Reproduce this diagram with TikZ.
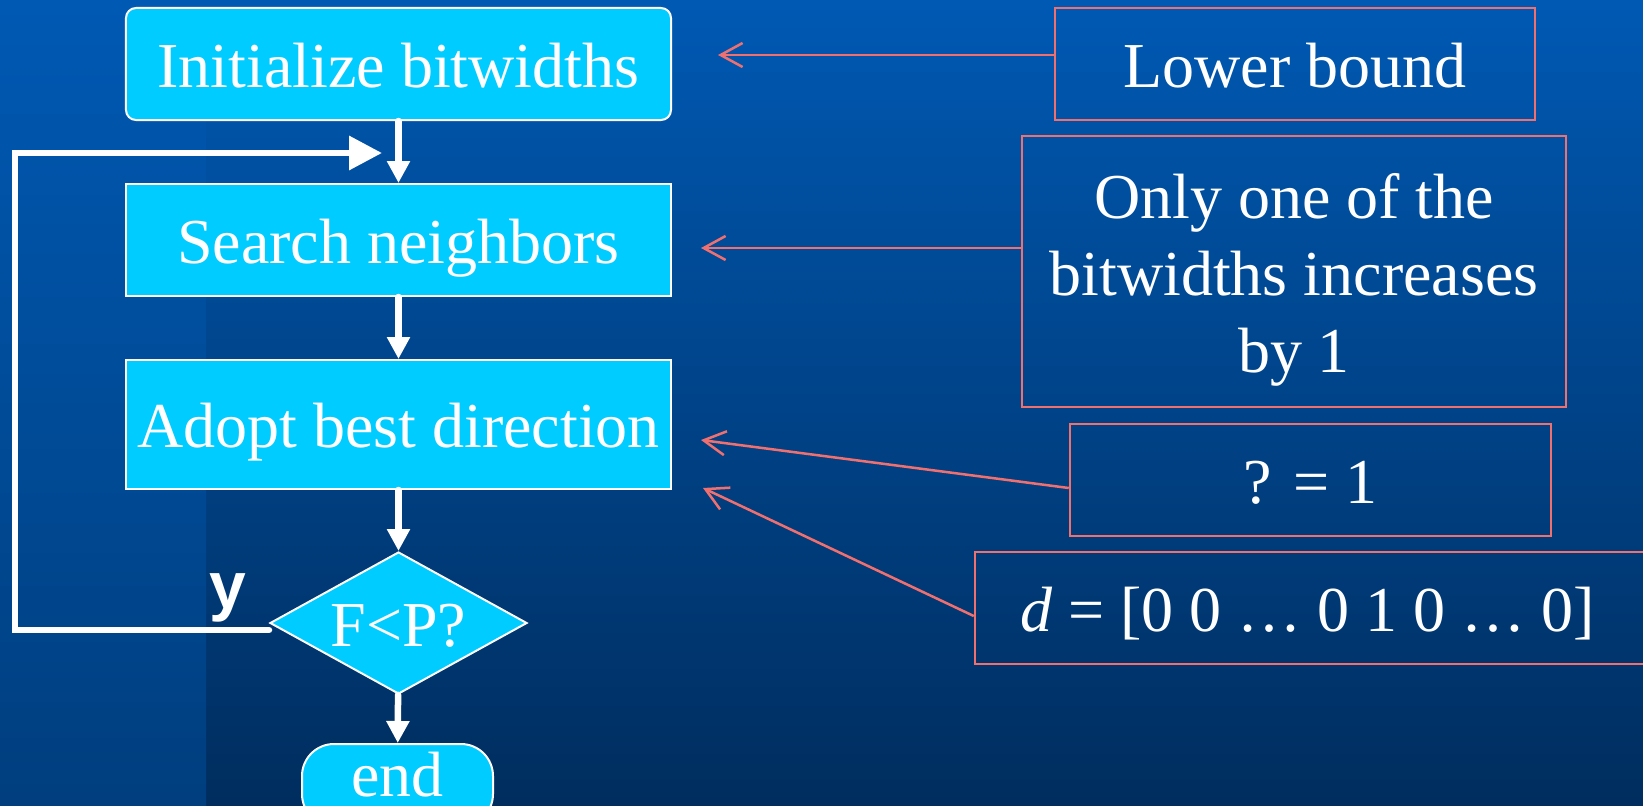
\documentclass[tikz,border=0pt]{standalone}
\usepackage{fontspec}
\setmainfont{Liberation Serif}
\newfontfamily\labelsans{Liberation Sans}
\usetikzlibrary{arrows.meta,shapes.geometric}
\definecolor{bgtop}{HTML}{0059B3}
\definecolor{bgbot}{HTML}{002D5E}
\definecolor{stripbot}{HTML}{003E7E}
\definecolor{boxcyan}{HTML}{00CCFF}
\definecolor{notered}{HTML}{F07070}
\begin{document}
\begin{tikzpicture}[x=1bp,y=-1bp,
  every node/.style={font=\fontsize{64bp}{77bp}\selectfont, text=white, inner sep=0pt},
  stepbox/.style={draw=white, line width=2bp, fill=boxcyan, text height=46bp, text depth=0pt},
  notebox/.style={draw=notered, line width=2.5bp, text height=46bp, text depth=0pt},
  flowarrow/.style={draw=white, line width=6.5bp, line cap=round, -{Triangle[length=22bp,width=22bp]}},
  looparrow/.style={draw=white, line width=6.5bp, line cap=round, -{Triangle[length=33bp,width=33bp]}},
  notearrow/.style={draw=notered, line width=2.5bp, -{Straight Barb[length=22bp,width=24bp]}}]
\useasboundingbox (0,0) rectangle (1643,806);
\clip (0,0) rectangle (1643,806);

% background: vertical gradient with a slightly lighter left band
\shade[top color=bgtop, bottom color=bgbot] (0,0) rectangle (1643,806);
\shade[top color=bgtop, bottom color=stripbot] (0,0) rectangle (206,806);

% flow chart
\node[stepbox, rounded corners=10bp, minimum width=545bp, minimum height=112bp] (init) at (398.5,64) {Initialize bitwidths};
\node[stepbox, minimum width=545bp, minimum height=112bp] (search) at (398.5,240) {Search neighbors};
\node[stepbox, minimum width=545bp, minimum height=129bp] (adopt) at (398.5,424.5) {Adopt best direction};
\node[stepbox, diamond, aspect=1.81, minimum width=257bp, minimum height=142bp] (dia) at (398.5,623) {F<P?};
\node[stepbox, rounded corners=32bp, minimum width=191bp, minimum height=82bp, text height=22bp] (endn) at (397.5,785) {end};
\node[font=\labelsans\bfseries\fontsize{66bp}{66bp}\selectfont, anchor=base] (ylab) at (228,608) {y};

\draw[flowarrow] (init) -- (search);
\draw[flowarrow] (search) -- (adopt);
\draw[flowarrow] (adopt) -- (dia);
\draw[flowarrow] (dia) -- (endn);

\coordinate (loopleft) at (15,153);
\coordinate (loopend) at (382,153);
\draw[looparrow] ([yshift=-7bp]dia.west) -| (loopleft) -- (loopend);

% annotations
\node[notebox, minimum width=480bp, minimum height=112bp] (lowb) at (1295,64) {Lower bound};
\node[draw=notered, line width=2.5bp, minimum width=544bp, minimum height=271bp] (onlyb) at (1294,271.5) {};
\node[align=center] (onlyt) at (1294,280) {Only one of the\\bitwidths increases\\by 1};
\node[notebox, minimum width=481bp, minimum height=112bp] (lamb) at (1310.5,480) {? = 1};
\node[draw=notered, line width=2.5bp, minimum width=675bp, minimum height=112bp] (dvec) at (1312.5,608) {};
\node[text height=46bp, text depth=0pt] (dtxt) at (1307.5,608) {\textit{d} = [0 0 … 0 1 0 … 0]};

\coordinate (t1) at (718,55);
\coordinate (t2) at (701,248);
\coordinate (t3) at (701,440);
\coordinate (t4) at (703,488);
\coordinate (s3) at (1070,488);
\coordinate (s4) at (975,616);
\draw[notearrow] (lowb.west |- t1) -- (t1);
\draw[notearrow] (onlyb.west |- t2) -- (t2);
\draw[notearrow] (lamb.west |- s3) -- (t3);
\draw[notearrow] (dvec.west |- s4) -- (t4);
\end{tikzpicture}
\end{document}
